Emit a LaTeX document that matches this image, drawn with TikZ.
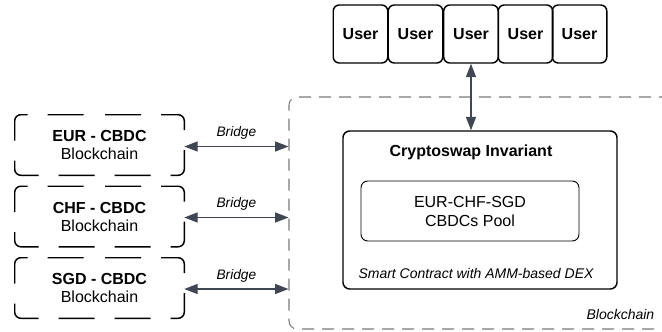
\documentclass[tikz,border=0pt]{standalone}
\usepackage{fontspec}
\setmainfont{Liberation Sans}
\usetikzlibrary{arrows.meta}
\definecolor{arrcol}{HTML}{404652}
\definecolor{dashcol}{HTML}{7A7A7A}
\begin{document}
\begin{tikzpicture}[x=0.75pt,y=-0.75pt,
  userbox/.style={draw=black, line width=1.1pt, rounded corners=4.5pt, minimum width=40.9pt, minimum height=43.5pt, inner sep=0pt, font=\fontsize{12}{14}\selectfont\bfseries},
  cbdcbox/.style={minimum width=126.75pt, minimum height=45pt, inner sep=0pt, align=center, font=\fontsize{12}{13.5}\selectfont},
  cbdcborder/.style={draw=black, line width=1.1pt, dash pattern=on 27pt off 15pt, dash phase=34.5pt, rounded corners=4.5pt},
  twoway/.style={{Triangle[length=10pt,width=7.5pt]}-{Triangle[length=10pt,width=7.5pt]}, draw=arrcol, line width=0.9pt},
  bridgelbl/.style={font=\fontsize{10.3}{12}\selectfont\itshape, above=1.5pt, midway},
  ]
\useasboundingbox (0,0) rectangle (662,332);
\clip (0,0) rectangle (662,332);
% outer blockchain container (open to the right)
\node[draw=dashcol, line width=0.8pt, dash pattern=on 9pt off 6pt, rounded corners=6pt, minimum width=322.5pt, minimum height=174pt, inner sep=0pt] (chain) at (504,213) {};
% users
\node[userbox] (u1) at (360.5,34) {User};
\node[userbox] (u2) at (415.5,34) {User};
\node[userbox] (u3) at (471,34) {User};
\node[userbox] (u4) at (525.5,34) {User};
\node[userbox] (u5) at (579.5,34) {User};
% smart contract
\node[draw=black, line width=1.1pt, rounded corners=5pt, minimum width=205.5pt, minimum height=118.5pt, inner sep=0pt] (crypto) at (480,210) {};
\node[font=\fontsize{12}{14}\selectfont\bfseries] (title) at (471,152) {Cryptoswap Invariant};
\node[draw=black, line width=0.7pt, rounded corners=5pt, minimum width=163.5pt, minimum height=45pt, inner sep=0pt, align=center, font=\fontsize{12}{14.25}\selectfont] (pool) at (470,211) {EUR-CHF-SGD\\CBDCs Pool};
\node[font=\fontsize{10.5}{12}\selectfont\itshape] (amm) at (476,273) {Smart Contract with AMM-based DEX};
\node[font=\fontsize{10.5}{12}\selectfont\itshape, anchor=east] (chainlbl) at (659,314) {Blockchain};
% CBDC blockchains
\node[cbdcbox] (eur) at (99.5,145) {\textbf{EUR - CBDC}\\Blockchain};
\node[cbdcbox] (chf) at (99.5,216.5) {\textbf{CHF - CBDC}\\Blockchain};
\node[cbdcbox] (sgd) at (99.5,288) {\textbf{SGD - CBDC}\\Blockchain};
\foreach \n in {eur,chf,sgd}
  \draw[cbdcborder] (\n.north) -- (\n.north west) -- (\n.south west) -- (\n.south east) -- (\n.north east) -- cycle;
% connectors
\draw[twoway] (u3.south) -- (u3.south |- crypto.north);
\draw[twoway] (eur.east |- 0,146.5) -- (chain.west |- 0,146.5) node[bridgelbl] {Bridge};
\draw[twoway] (chf.east |- 0,217.5) -- (chain.west |- 0,217.5) node[bridgelbl] {Bridge};
\draw[twoway] (sgd.east |- 0,289) -- (chain.west |- 0,289) node[bridgelbl] {Bridge};
\end{tikzpicture}
\end{document}
